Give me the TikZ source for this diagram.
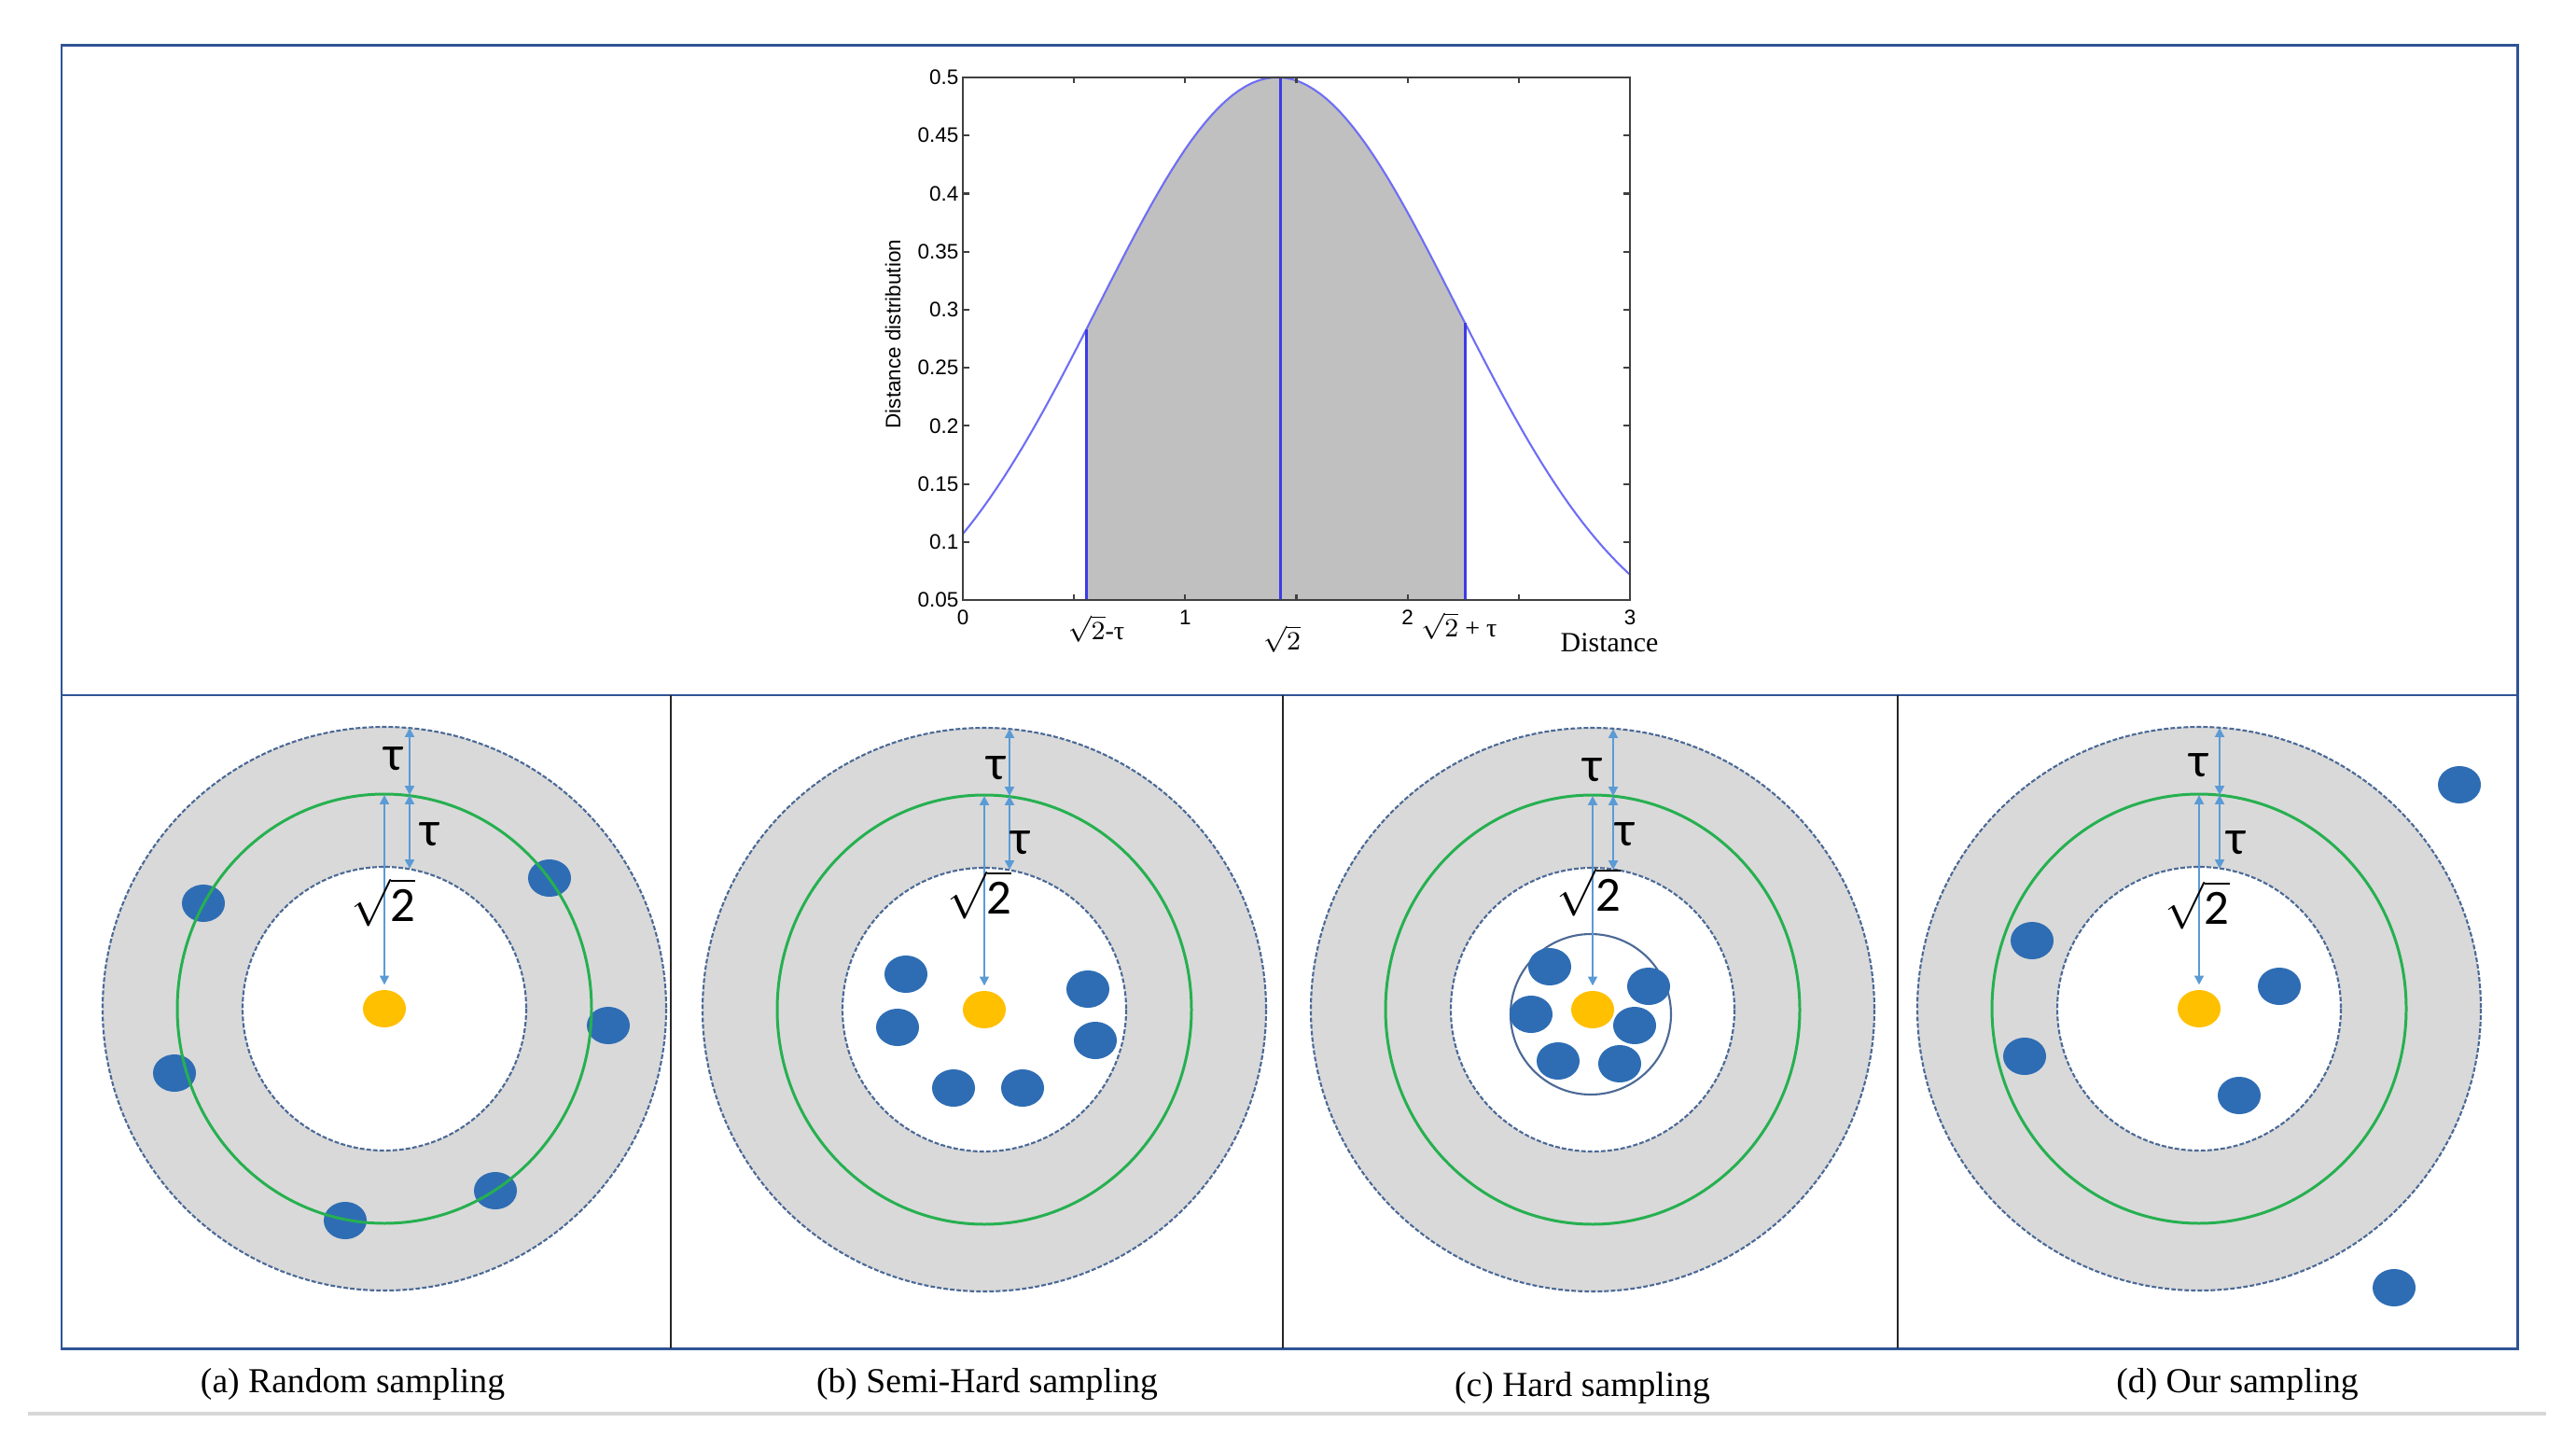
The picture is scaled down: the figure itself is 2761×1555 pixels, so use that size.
\documentclass[tikz,border=0pt]{standalone}
\usepackage{fontspec}
\setmainfont{Liberation Serif}
\newfontfamily\plotfont{Liberation Sans}
\newfontfamily\calfont{Carlito}
\usetikzlibrary{shapes.geometric,arrows.meta}
\definecolor{frameblue}{RGB}{47,84,150}
\definecolor{ringgray}{RGB}{217,217,217}
\definecolor{ringline}{RGB}{75,105,150}
\definecolor{margingreen}{RGB}{38,176,80}
\definecolor{sampleblue}{RGB}{46,109,180}
\definecolor{anchoryellow}{RGB}{255,192,0}
\definecolor{arrowblue}{RGB}{91,155,213}
\definecolor{plotgray}{RGB}{192,192,192}
\definecolor{curveblue}{RGB}{110,110,245}
\definecolor{cutblue}{RGB}{60,60,230}
\definecolor{shadowgray}{RGB}{215,215,215}
\begin{document}
\begin{tikzpicture}[x=0.01cm,y=-0.01cm,
  declare function={dd(\t)=0.5*exp((\t-1.414)*(\t-1.414)/(-1.296));
    px(\t)=1032+238.33*\t; py(\v)=643-1244.4*(\v-0.05);},
  frame/.style={draw=frameblue,line width=0.85pt},
  divider/.style={draw=black!85,line width=0.7pt},
  ring/.style={draw=ringline,line width=0.6pt,dash pattern=on 1.4pt off 0.6pt},
  margin/.style={draw=margingreen,line width=0.85pt},
  cluster/.style={draw=ringline,line width=0.6pt},
  anchorpt/.style={ellipse,fill=anchoryellow,minimum width=0.46cm,minimum height=0.4cm,inner sep=0pt},
  sample/.style={ellipse,fill=sampleblue,minimum width=0.46cm,minimum height=0.4cm,inner sep=0pt},
  dim/.style={draw=arrowblue,line width=0.6pt,{Triangle[length=2.8pt,width=2.8pt]}-{Triangle[length=2.8pt,width=2.8pt]}},
  taulbl/.style={font=\calfont\fontsize{15}{15}\selectfont,inner sep=0pt},
  axisline/.style={draw=black!75,line width=0.6pt},
  ticklbl/.style={font=\plotfont\fontsize{6.4}{7}\selectfont,inner sep=0pt},
  axislbl/.style={font=\fontsize{8}{9}\selectfont,inner sep=0pt},
  caption/.style={font=\fontsize{10.7}{12}\selectfont,inner sep=0pt}]
\useasboundingbox (0,0) rectangle (2761,1555);

\fill[plotgray] ({px(0.554)},643) -- plot[domain=0.554:2.258,samples=60] ({px(\x)},{py(dd(\x))}) -- ({px(2.258)},643) -- cycle;
\draw[curveblue,line width=0.6pt] plot[domain=0:3,samples=100] ({px(\x)},{py(dd(\x))});
\draw[cutblue,line width=0.85pt] ({px(0.554)},643) -- ({px(0.554)},{py(dd(0.554))});
\draw[cutblue,line width=0.85pt] ({px(1.427)},643) -- ({px(1.427)},{py(dd(1.427))});
\draw[cutblue,line width=0.85pt] ({px(2.258)},643) -- ({px(2.258)},{py(dd(2.258))});
\draw[axisline] (1032,83) rectangle (1747,643);
\foreach \k in {1,...,5} {
  \draw[axisline] ({1032+119.17*\k},643) -- ++(0,-6);
  \draw[axisline] ({1032+119.17*\k},83) -- ++(0,6);
}
\foreach \k in {1,...,8} {
  \draw[axisline] (1032,{643-62.22*\k}) -- ++(7,0);
  \draw[axisline] (1747,{643-62.22*\k}) -- ++(-7,0);
}
\foreach \k/\t in {0/0.05,1/0.1,2/0.15,3/0.2,4/0.25,5/0.3,6/0.35,7/0.4,8/0.45,9/0.5}
  \node[ticklbl,anchor=east] at (1028,{643-62.22*\k}) {\t};
\foreach \k in {0,...,3}
  \node[ticklbl] at ({px(\k)},662) {\k};
\node[ticklbl,rotate=90] (ylbl) at (957,358) {Distance distribution};
\node[axislbl] (lo) at (1175,674) {$\sqrt{2}$-τ};
\node[axislbl] (mid) at (1374,685) {$\sqrt{2}$};
\node[axislbl] (hi) at (1564,671) {$\sqrt{2}$ + τ};
\node[axislbl,font=\fontsize{8.5}{9}\selectfont] (xlbl) at (1725,689) {Distance};

\filldraw[ring,fill=ringgray] (412,1081) circle[radius=302];
\filldraw[ring,fill=white] (412,1081) circle[radius=152];
\node[anchorpt] (qa) at (412,1081) {};
\node[sample] (a1) at (218,968) {};
\node[sample] (a2) at (589,941) {};
\node[sample] (a3) at (652,1099) {};
\node[sample] (a4) at (187,1150) {};
\node[sample] (a5) at (531,1276) {};
\node[sample] (a6) at (370,1308) {};
\draw[margin] (412,1081) ellipse[x radius=222,y radius=230];
\coordinate (ta0) at (439,780);
\coordinate (ta1) at (439,852);
\coordinate (ta2) at (439,931);
\coordinate (ra) at (412,852);
\draw[dim] (ta0) -- (ta1);
\draw[dim] (ta1) -- (ta2);
\draw[dim,shorten >=1.4pt] (ra) -- (qa);
\node[taulbl] at (422,813) {τ};
\node[taulbl] at (461,894) {τ};
\node[taulbl] at (411,967) {$\sqrt{\mbox{2}}$};

\filldraw[ring,fill=ringgray] (1055,1082) circle[radius=302];
\filldraw[ring,fill=white] (1055,1082) circle[radius=152];
\draw[margin] (1055,1082) ellipse[x radius=222,y radius=230];
\node[anchorpt] (qb) at (1055,1082) {};
\node[sample] (b1) at (971,1044) {};
\node[sample] (b2) at (1166,1060) {};
\node[sample] (b3) at (962,1101) {};
\node[sample] (b4) at (1174,1115) {};
\node[sample] (b5) at (1022,1166) {};
\node[sample] (b6) at (1096,1166) {};
\coordinate (tb0) at (1082,781);
\coordinate (tb1) at (1082,853);
\coordinate (tb2) at (1082,932);
\coordinate (rb) at (1055,853);
\draw[dim] (tb0) -- (tb1);
\draw[dim] (tb1) -- (tb2);
\draw[dim,shorten >=1.4pt] (rb) -- (qb);
\node[taulbl] at (1068,823) {τ};
\node[taulbl] at (1094,903) {τ};
\node[taulbl] at (1050,959) {$\sqrt{\mbox{2}}$};

\filldraw[ring,fill=ringgray] (1707,1082) circle[radius=302];
\filldraw[ring,fill=white] (1707,1082) circle[radius=152];
\draw[margin] (1707,1082) ellipse[x radius=222,y radius=230];
\draw[cluster] (1705,1087) circle[radius=86];
\node[anchorpt] (qc) at (1707,1082) {};
\node[sample] (c1) at (1661,1036) {};
\node[sample] (c2) at (1767,1057) {};
\node[sample] (c3) at (1641,1087) {};
\node[sample] (c4) at (1752,1099) {};
\node[sample] (c5) at (1670,1137) {};
\node[sample] (c6) at (1736,1140) {};
\coordinate (tc0) at (1729,781);
\coordinate (tc1) at (1729,853);
\coordinate (tc2) at (1729,932);
\coordinate (rc) at (1707,853);
\draw[dim] (tc0) -- (tc1);
\draw[dim] (tc1) -- (tc2);
\draw[dim,shorten >=1.4pt] (rc) -- (qc);
\node[taulbl] at (1707,825) {τ};
\node[taulbl] at (1742,894) {τ};
\node[taulbl] at (1703,956) {$\sqrt{\mbox{2}}$};

\filldraw[ring,fill=ringgray] (2357,1081) circle[radius=302];
\filldraw[ring,fill=white] (2357,1081) circle[radius=152];
\draw[margin] (2357,1081) ellipse[x radius=222,y radius=230];
\node[anchorpt] (qd) at (2357,1081) {};
\node[sample] (d1) at (2636,841) {};
\node[sample] (d2) at (2178,1008) {};
\node[sample] (d3) at (2443,1057) {};
\node[sample] (d4) at (2170,1132) {};
\node[sample] (d5) at (2400,1174) {};
\node[sample] (d6) at (2566,1380) {};
\coordinate (td0) at (2379,780);
\coordinate (td1) at (2379,852);
\coordinate (td2) at (2379,931);
\coordinate (rd) at (2357,852);
\draw[dim] (td0) -- (td1);
\draw[dim] (td1) -- (td2);
\draw[dim,shorten >=1.4pt] (rd) -- (qd);
\node[taulbl] at (2357,820) {τ};
\node[taulbl] at (2397,903) {τ};
\node[taulbl] at (2355,970) {$\sqrt{\mbox{2}}$};

\draw[frame] (66,49) rectangle (2698,1445);
\draw[frame] (66,745) -- (2698,745);
\draw[divider] (719,745) -- (719,1445);
\draw[divider] (1375,745) -- (1375,1445);
\draw[divider] (2034,745) -- (2034,1445);
\draw[shadowgray,line width=1.4pt] (30,1515) -- (2729,1515);

\node[caption] (capa) at (378,1483) {(a) Random sampling};
\node[caption] (capb) at (1058,1483) {(b) Semi-Hard sampling};
\node[caption] (capc) at (1696,1487) {(c) Hard sampling};
\node[caption] (capd) at (2398,1483) {(d) Our sampling};
\end{tikzpicture}
\end{document}
